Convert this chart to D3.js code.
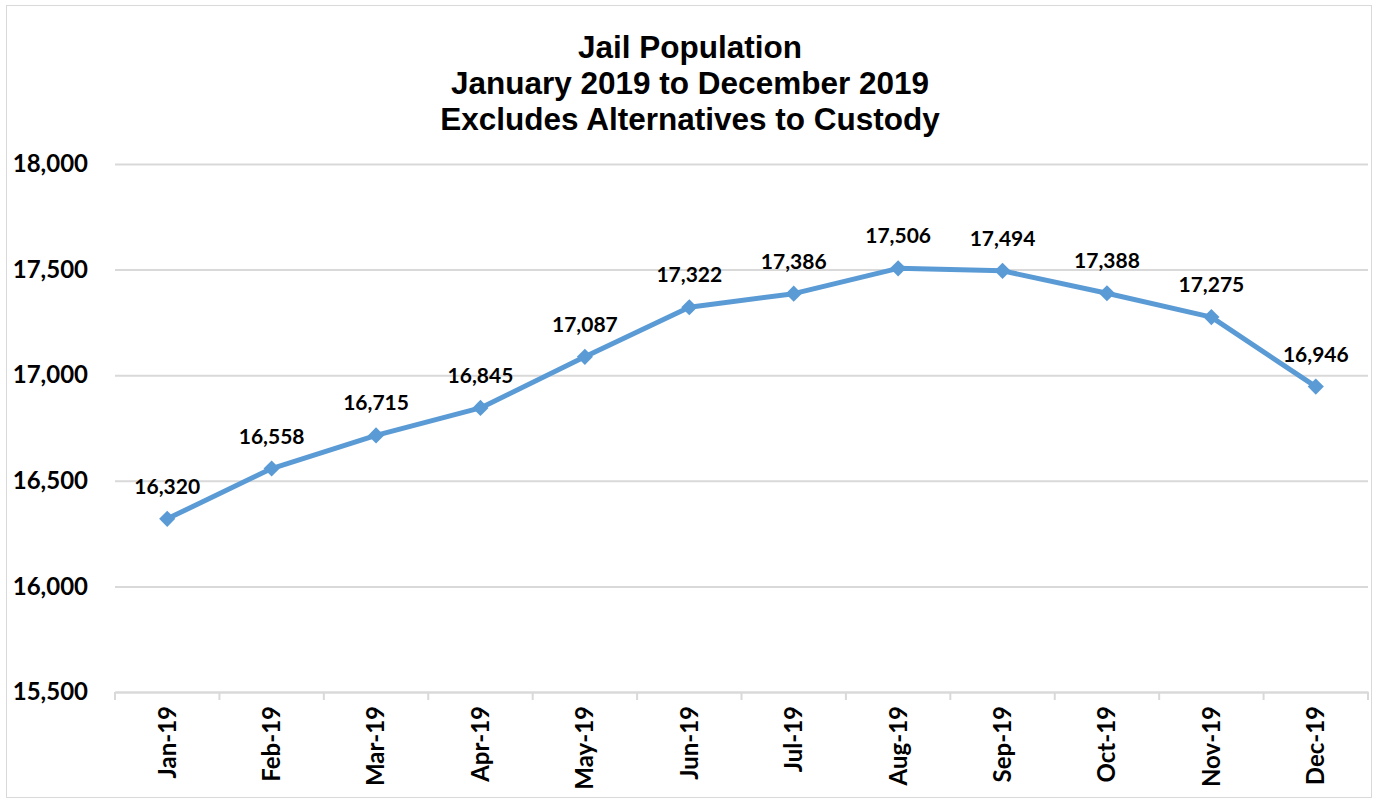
<!DOCTYPE html>
<html lang="en">
<head>
<meta charset="utf-8">
<script src="https://d3js.org/d3.v7.min.js"></script>
<style>
body { margin: 0; background: #fff; }
</style>
</head>
<body>
</body>
<script type="text/javascript">

var months = ["Jan-19","Feb-19","Mar-19","Apr-19","May-19","Jun-19","Jul-19","Aug-19","Sep-19","Oct-19","Nov-19","Dec-19"]
var population = [16320,16558,16715,16845,17087,17322,17386,17506,17494,17388,17275,16946]
var yTicks = [15500,16000,16500,17000,17500,18000]
var titleLines = ["Jail Population","January 2019 to December 2019","Excludes Alternatives to Custody"]

var W = 1376, H = 801
var plotLeft = 115, plotRight = 1368, plotTop = 164, plotBottom = 692

var svg = d3.select("body")
  .append("svg")
  .attr("width", W)
  .attr("height", H)

// chart border
svg.append("rect")
  .attr("x", 6.5).attr("y", 5.5)
  .attr("width", W - 11).attr("height", H - 9)
  .attr("fill", "#fff")
  .attr("stroke", "#d9d9d9")

var x = d3.scaleBand().domain(months).range([plotLeft, plotRight])
var y = d3.scaleLinear().domain([15500, 18000]).range([plotBottom, plotTop])

// title
svg.append("g").selectAll("text")
  .data(titleLines)
  .enter()
  .append("text")
  .attr("x", 690)
  .attr("y", (d, i) => 58 + i * 36)
  .attr("text-anchor", "middle")
  .attr("font-family", "'Liberation Sans', Arial, sans-serif")
  .attr("font-weight", "bold")
  .attr("font-size", 31.5)
  .text(d => d)

// gridlines + y labels
var yAxis = svg.append("g")
  .attr("transform", "translate(" + plotLeft + ",0)")
  .call(d3.axisLeft(y).tickValues(yTicks).tickSize(-(plotRight - plotLeft)).tickFormat(d3.format(",")))
yAxis.select(".domain").remove()
yAxis.selectAll(".tick line").attr("stroke", "#d9d9d9").attr("stroke-width", 2)
yAxis.selectAll(".tick text")
  .attr("x", -27)
  .style("font-family", "Lato, 'Open Sans', sans-serif")
  .style("font-weight", "bold")
  .style("font-size", "24px")
  .attr("fill", "#000")

// bottom axis
var xAxis = svg.append("g")
  .attr("transform", "translate(0," + plotBottom + ")")
  .call(d3.axisBottom(x).tickSize(0))
xAxis.select(".domain").attr("stroke", "#d9d9d9").attr("stroke-width", 2)
xAxis.selectAll(".tick text")
  .attr("transform", "rotate(-90)")
  .attr("x", -14)
  .attr("y", 0)
  .attr("dy", "0.35em")
  .attr("text-anchor", "end")
  .style("font-family", "Lato, 'Open Sans', sans-serif")
  .style("font-weight", "bold")
  .style("font-size", "24px")
  .attr("fill", "#000")

// category boundary ticks
var bounds = months.map(m => x(m)).concat([plotRight])
svg.append("g").selectAll("line")
  .data(bounds)
  .enter()
  .append("line")
  .attr("x1", d => d).attr("x2", d => d)
  .attr("y1", plotBottom).attr("y2", plotBottom + 8)
  .attr("stroke", "#d9d9d9")
  .attr("stroke-width", 2)

var cx = (d, i) => x(months[i]) + x.bandwidth() / 2

var line = d3.line()
  .x(cx)
  .y(d => y(d))

svg.append("path")
  .datum(population)
  .attr("d", line)
  .attr("fill", "none")
  .attr("stroke", "#5b9bd5")
  .attr("stroke-width", 5)
  .attr("stroke-linejoin", "round")

svg.append("g").selectAll("path")
  .data(population)
  .enter()
  .append("path")
  .attr("d", d3.symbol().type(d3.symbolSquare).size(130))
  .attr("transform", (d, i) => "translate(" + cx(d, i) + "," + y(d) + ") rotate(45)")
  .attr("fill", "#5b9bd5")

svg.append("g").selectAll("text")
  .data(population)
  .enter()
  .append("text")
  .attr("x", cx)
  .attr("y", d => y(d) - 25)
  .attr("text-anchor", "middle")
  .style("font-family", "Lato, 'Open Sans', sans-serif")
  .style("font-weight", "bold")
  .style("font-size", "21px")
  .text(d => d3.format(",")(d))

</script>
</html>
